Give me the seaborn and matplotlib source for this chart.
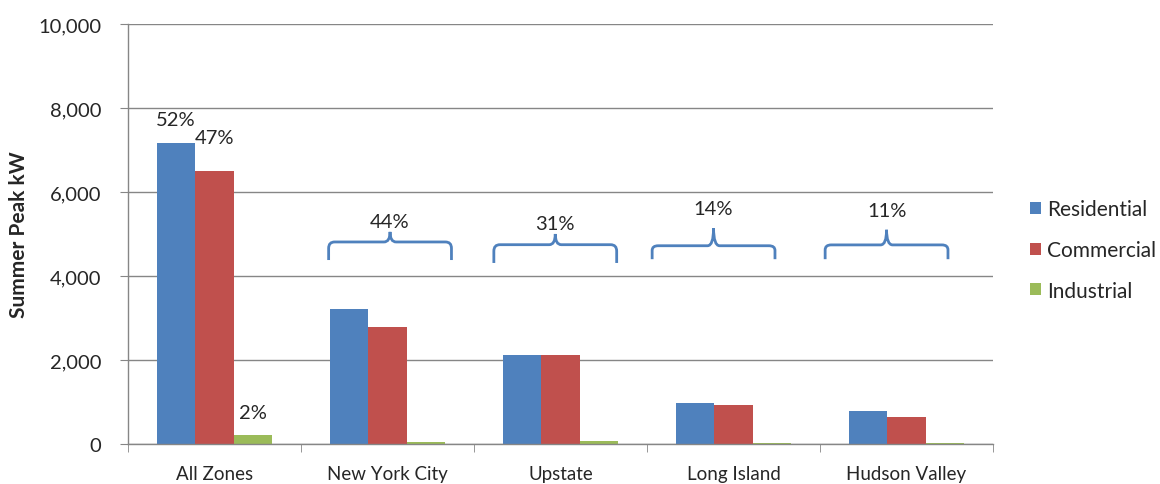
import numpy as np
import pandas as pd
import matplotlib
matplotlib.use("Agg")
import matplotlib.pyplot as plt
import seaborn as sns
from matplotlib.path import Path
from matplotlib.patches import PathPatch

# data
zones = ["All Zones", "New York City", "Upstate", "Long Island", "Hudson Valley"]
sectors = ["Residential", "Commercial", "Industrial"]
residential = [7160, 3220, 2120, 980, 790]
commercial = [6500, 2780, 2120, 920, 650]
industrial = [215, 50, 80, 25, 25]
all_zone_labels = ["52%", "47%", "2%"]
zone_share_labels = ["44%", "31%", "14%", "11%"]

colors = ["#4F81BD", "#C0504D", "#9BBB59"]
grid_col = "#868686"

df = pd.DataFrame({
    "zone": zones * 3,
    "sector": np.repeat(sectors, len(zones)),
    "kw": residential + commercial + industrial,
})

sns.set_style("white")
plt.rcParams["font.family"] = ["Lato", "DejaVu Sans"]

fig = plt.figure(figsize=(11.6, 4.85), dpi=100)
ax = fig.add_axes([0.1103, 0.0825, 0.7457, 0.866])

sns.barplot(data=df, x="zone", y="kw", hue="sector", order=zones,
            hue_order=sectors, palette=colors, saturation=1, width=0.667,
            gap=0, edgecolor="none", linewidth=0, ax=ax)

ax.set_ylim(0, 10000)
ax.set_xlim(-0.5, len(zones) - 0.5)
ax.set_yticks(np.arange(0, 10001, 2000))
ax.set_yticklabels([f"{v:,}" for v in range(0, 10001, 2000)], fontsize=14.5)
ax.yaxis.grid(True, color=grid_col, lw=1)
ax.set_axisbelow(True)
for s in ["top", "right"]:
    ax.spines[s].set_visible(False)
for s in ["left", "bottom"]:
    ax.spines[s].set_color(grid_col)
    ax.spines[s].set_linewidth(1)
ax.tick_params(axis="y", length=6, color=grid_col, left=True, pad=13)
ax.tick_params(axis="x", which="major", length=0, labelsize=13.5, pad=15)
ax.set_xticks(np.arange(-0.5, len(zones), 1), minor=True)
ax.tick_params(axis="x", which="minor", length=6, color=grid_col, bottom=True)
ax.set_xlabel("")
ax.set_ylabel("Summer Peak kW", fontsize=15, fontweight="bold", labelpad=7)

# share labels over the All Zones bars
offsets = [17, 24, 16]
for i, cont in enumerate(ax.containers):
    bar = cont[0]
    ax.annotate(all_zone_labels[i], (bar.get_x() + bar.get_width() / 2, bar.get_height()),
                xytext=(0, offsets[i]), textcoords="offset points",
                ha="center", va="center", fontsize=14.5)

# curly brackets over each zone
centers = [1.015, 1.97, 2.885, 3.885]
y_base = [4380, 4310, 4400, 4400]
y_mid = [4810, 4745, 4720, 4740]
y_peak = [5050, 5000, 5140, 5100]
y_text = [5290, 5240, 5600, 5550]
half = 0.355
dx = 0.035
for k, xc in enumerate(centers):
    xl, xr = xc - half, xc + half
    yb, yh, yp = y_base[k], y_mid[k], y_peak[k]
    ry = (yh - yb) * 0.35
    verts = [(xl, yb), (xl, yh - ry), (xl, yh), (xl + dx, yh),
             (xc - dx, yh), (xc, yh), (xc, yp),
             (xc, yh), (xc + dx, yh),
             (xr - dx, yh), (xr, yh), (xr, yh - ry), (xr, yb)]
    codes = [Path.MOVETO, Path.LINETO, Path.CURVE3, Path.CURVE3,
             Path.LINETO, Path.CURVE3, Path.CURVE3,
             Path.CURVE3, Path.CURVE3,
             Path.LINETO, Path.CURVE3, Path.CURVE3, Path.LINETO]
    ax.add_patch(PathPatch(Path(verts, codes), fill=False, ec="#4F81BD", lw=2,
                           clip_on=False))
    ax.text(xc, y_text[k], zone_share_labels[k], ha="center", va="center", fontsize=14.5)

handles, labels = ax.get_legend_handles_labels()
ax.legend(handles, labels, loc="center left", bbox_to_anchor=(0.881, 0.4825),
          bbox_transform=fig.transFigure, frameon=False, fontsize=15,
          handlelength=0.5, handleheight=0.5, handletextpad=0.3,
          labelspacing=1.0, borderaxespad=0)

fig.savefig("out.png", dpi=100)
